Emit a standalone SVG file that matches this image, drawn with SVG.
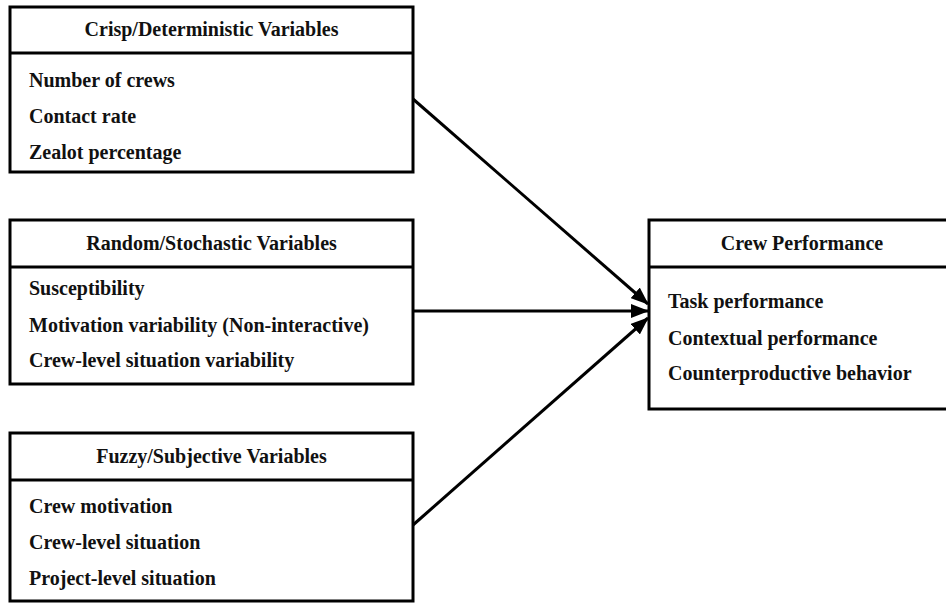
<svg xmlns="http://www.w3.org/2000/svg" width="946" height="603" viewBox="0 0 946 603">
<style>
.box{fill:#fff;stroke:#000;stroke-width:3}
.div{stroke:#000;stroke-width:3}
.t{font-family:"Liberation Serif","Times New Roman",serif;font-weight:bold;font-size:20px;fill:#111}
.h{text-anchor:middle}
.c{stroke:#000;stroke-width:3;fill:none}
</style>
<defs>
<marker id="ah" markerUnits="userSpaceOnUse" markerWidth="18" markerHeight="14" viewBox="0 0 18 14" refX="17" refY="7" orient="auto">
<path d="M0,0 L18,7 L0,14 Z" fill="#000"/>
</marker>
</defs>
<rect width="946" height="603" fill="#fff"/>
<g id="connectors">
<line class="c" x1="413" y1="99" x2="648" y2="304" marker-end="url(#ah)"/>
<line class="c" x1="413" y1="311" x2="648" y2="311" marker-end="url(#ah)"/>
<line class="c" x1="413" y1="525" x2="648" y2="318" marker-end="url(#ah)"/>
</g>
<g id="crisp">
<rect class="box" x="10" y="7" width="403" height="165"/>
<line class="div" x1="10" y1="53" x2="413" y2="53"/>
<text class="t h" x="211.5" y="36">Crisp/Deterministic Variables</text>
<text class="t" x="29" y="87">Number of crews</text>
<text class="t" x="29" y="123">Contact rate</text>
<text class="t" x="29" y="159">Zealot percentage</text>
</g>
<g id="random">
<rect class="box" x="10" y="220" width="403" height="164"/>
<line class="div" x1="10" y1="267" x2="413" y2="267"/>
<text class="t h" x="211.5" y="250">Random/Stochastic Variables</text>
<text class="t" x="29" y="295">Susceptibility</text>
<text class="t" x="29" y="332">Motivation variability (Non-interactive)</text>
<text class="t" x="29" y="367">Crew-level situation variability</text>
</g>
<g id="fuzzy">
<rect class="box" x="10" y="433" width="403" height="168"/>
<line class="div" x1="10" y1="480" x2="413" y2="480"/>
<text class="t h" x="211.5" y="463">Fuzzy/Subjective Variables</text>
<text class="t" x="29" y="513">Crew motivation</text>
<text class="t" x="29" y="549">Crew-level situation</text>
<text class="t" x="29" y="585">Project-level situation</text>
</g>
<g id="performance">
<rect class="box" x="649" y="220" width="300" height="189"/>
<line class="div" x1="649" y1="267" x2="949" y2="267"/>
<text class="t h" x="802" y="250">Crew Performance</text>
<text class="t" x="668" y="308">Task performance</text>
<text class="t" x="668" y="345">Contextual performance</text>
<text class="t" x="668" y="380">Counterproductive behavior</text>
</g>
</svg>
